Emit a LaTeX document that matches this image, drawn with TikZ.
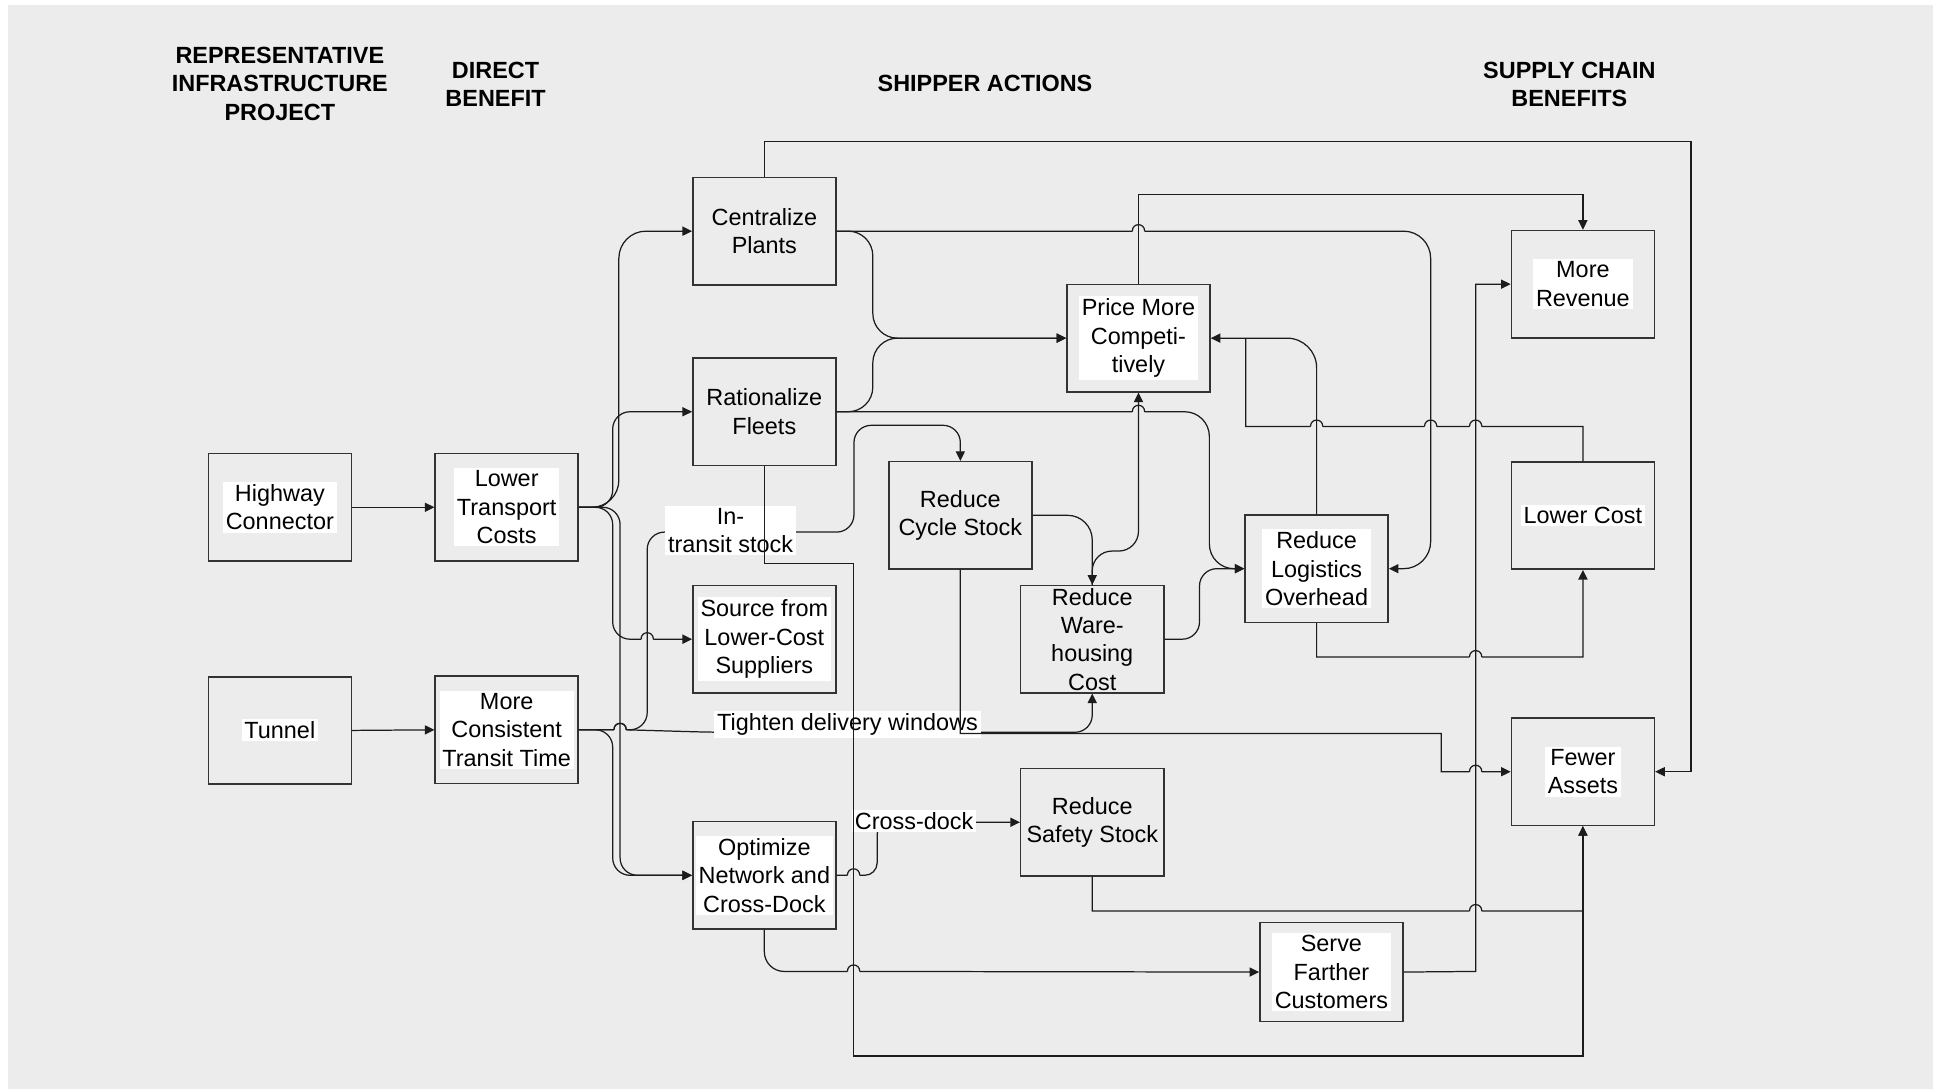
\documentclass[tikz,border=0pt]{standalone}
\usepackage{fontspec}
\setmainfont{Liberation Sans}
\usetikzlibrary{arrows.meta}
\definecolor{bgc}{HTML}{ECECEC}
\definecolor{ink}{HTML}{1C1C1C}

% line jump over a crossing line, for a line running right (\hopr) or left (\hopl)
\newcommand{\hopr}[2]{-- ({#1-5},#2) ({#1-5},#2) [sharp corners] .. controls ({#1-5},{#2-7}) and ({#1+5},{#2-7}) .. ({#1+5},#2) ({#1+5},#2)}
\newcommand{\hopl}[2]{-- ({#1+5},#2) ({#1+5},#2) [sharp corners] .. controls ({#1+5},{#2-7}) and ({#1-5},{#2-7}) .. ({#1-5},#2) ({#1-5},#2)}

\begin{document}
\begin{tikzpicture}[x=0.5pt,y=-0.5pt,
  font=\fontsize{9.5}{11.5}\selectfont,
  box/.style={draw=ink!90, line width=0.6pt, minimum width=58pt, minimum height=43.5pt, inner sep=0pt},
  txt/.style={align=center, inner sep=0pt},
  wtxt/.style={align=center, fill=white, inner xsep=1.2pt, inner ysep=1pt},
  head/.style={align=center, font=\fontsize{9.5}{11.5}\selectfont\bfseries},
  conn/.style={draw=ink, line width=0.5pt},
  arr/.style={conn, -{Triangle[length=3.9pt,width=3.7pt]}}]

\useasboundingbox (0,0) rectangle (1568,883);
\fill[white] (0,0) rectangle (1568,883);
\fill[bgc] (6.5,4) rectangle (1568,883);

% column headings
\node[head] (h1) at (227,68) {REPRESENTATIVE\\INFRASTRUCTURE\\PROJECT};
\node[head] (h2) at (402,68.5) {DIRECT\\BENEFIT};
\node[head] (h3) at (799,68) {SHIPPER ACTIONS};
\node[head] (h4) at (1273,68.5) {SUPPLY CHAIN\\BENEFITS};

% boxes
\node[box] (hc)  at (227,411.5) {};
\node[box] (ltc) at (411,411.5) {};
\node[box] (tun) at (227,592.5) {};
\node[box] (mct) at (411,592) {};
\node[box] (cp)  at (620,187.5) {};
\node[box] (rf)  at (620,334) {};
\node[box] (sl)  at (620,518.5) {};
\node[box] (on)  at (620,710) {};
\node[box] (pm)  at (923.5,274.3) {};
\node[box] (rcs) at (779,418) {};
\node[box] (rwc) at (886,518.5) {};
\node[box] (rlo) at (1068,461.3) {};
\node[box] (rss) at (886,667) {};
\node[box, minimum height=40pt] (sfc) at (1080,788.5) {};
\node[box] (mr)  at (1284,230.5) {};
\node[box] (lc)  at (1284,418.2) {};
\node[box] (fa)  at (1284,626) {};

% box texts
\node[wtxt] (hct)  at (hc)  {Highway\\Connector};
\node[wtxt] (ltct) at (ltc) {Lower\\Transport\\Costs};
\node[wtxt] (tunt) at (tun) {Tunnel};
\node[wtxt] (mctt) at (mct) {More\\Consistent\\Transit Time};
\node[txt]  (cpt)  at (cp)  {Centralize\\Plants};
\node[txt]  (rft)  at (rf)  {Rationalize\\Fleets};
\node[wtxt] (slt)  at (sl)  {Source from\\Lower-Cost\\Suppliers};
\node[wtxt] (ont)  at (on)  {Optimize\\Network and\\Cross-Dock};
\node[wtxt] (pmt)  at (pm)  {Price More\\Competi-\\tively};
\node[txt]  (rcst) at (rcs) {Reduce\\Cycle Stock};
\node[txt]  (rwct) at (rwc) {Reduce\\Ware-\\housing\\Cost};
\node[wtxt] (rlot) at (rlo) {Reduce\\Logistics\\Overhead};
\node[txt]  (rsst) at (rss) {Reduce\\Safety Stock};
\node[wtxt] (sfct) at (sfc) {Serve\\Farther\\Customers};
\node[wtxt] (mrt)  at (mr)  {More\\Revenue};
\node[wtxt] (lct)  at (lc)  {Lower Cost};
\node[wtxt] (fat)  at (fa)  {Fewer\\Assets};

% projects to direct benefits
\draw[arr] (hc.east) -- (ltc.west);
\draw[arr] (tun.east) -- (mct.west);

% lower transport costs
\draw[arr, rounded corners=7pt] (ltc.east) -- (497,411.5) -- (497,334) -- (rf.west);
\draw[arr, rounded corners=11pt] (ltc.east) -- (502,411.5) -- (502,187.5) -- (cp.west);
\draw[arr, rounded corners=7pt] (ltc.east) -- (497,411.5) -- (497,518.5) \hopr{525}{518.5} -- (sl.west);
\draw[arr, rounded corners=7pt] (ltc.east) -- (503,411.5) -- (503,710) -- (on.west);

% more consistent transit time
\draw[arr, rounded corners=7pt] (mct.east) -- (497,592) -- (497,710) -- (on.west);
\draw[arr] (mct.east) \hopr{503}{592} [rounded corners=7pt] -- (525,592) -- (525,431.6) -- (692.7,431.6) -- (692.7,345) -- (779,345) -- (rcs.north);
\draw[arr] (mct.east) \hopr{503}{592} [rounded corners=7pt] -- (578,594) -- (886,594) -- (rwc.south);
\draw[arr] (on.east) \hopr{692.4}{710} [rounded corners=5pt] -- (711.5,710) -- (711.5,666.8) -- (rss.west);

% connector labels
\node[wtxt] (lit) at (592.6,430.2) {In-\\transit stock};
\node[wtxt] (ltd) at (687.5,587.5) {Tighten delivery windows};
\node[wtxt] (lcd) at (741.5,666) {Cross-dock};

% lines passing over the labels
\draw[arr] (rf.south) -- (620,457) -- (692.4,457) -- (692.4,856.6) -- (1284,856.6) -- (fa.south);
\draw[arr] (rcs.south) -- (779,595) -- (1169,595) -- (1169,626) \hopr{1197}{626} -- (fa.west);

% shipper actions
\draw[arr, rounded corners=10pt] (cp.east) -- (708,187.5) -- (708,274.3) -- (pm.west);
\draw[arr, rounded corners=10pt] (rf.east) -- (708,334) -- (708,274.3) -- (pm.west);
\draw[arr] (cp.east) \hopr{923.5}{187.5} [rounded corners=11pt] -- (1160.5,187.5) -- (1160.5,461.3) -- (rlo.east);
\draw[arr] (rf.east) \hopr{923.5}{334} [rounded corners=10pt] -- (981,334) -- (981,461.3) -- (rlo.west);
\draw[arr, rounded corners=7pt] (rwc.east) -- (973,518.5) -- (973,461.3) -- (rlo.west);
\draw[arr, rounded corners=10pt] (rcs.east) -- (886,418) -- (rwc.north);
\draw[arr, rounded corners=8pt] (rwc.north) -- (886,447) -- (923.5,447) -- (pm.south);
\draw[arr, rounded corners=12pt] (rlo.north) -- (1068,274.3) -- (pm.east);
\draw[arr, rounded corners=8pt] (on.south) -- (620,788) \hopr{692.4}{788} -- (sfc.west);

% supply chain benefits
\draw[conn] (lc.north) -- (1284,346) \hopl{1197}{346} \hopl{1160.5}{346} \hopl{1068}{346} -- (1010.5,346) -- (1010.5,274.3);
\draw[arr] (pm.north) -- (923.5,158) -- (1284,158) -- (mr.north);
\draw[arr] (cp.north) -- (620,114.7) -- (1371.6,114.7) -- (1371.6,626) -- (fa.east);
\draw[arr] (rlo.south) -- (1068,533) \hopr{1197}{533} -- (1284,533) -- (lc.south);
\draw[arr] (sfc.east) -- (1197,788) -- (1197,230.5) -- (mr.west);
\draw[arr] (rss.south) -- (886,739) \hopr{1197}{739} -- (1284,739) -- (fa.south);
\end{tikzpicture}
\end{document}
